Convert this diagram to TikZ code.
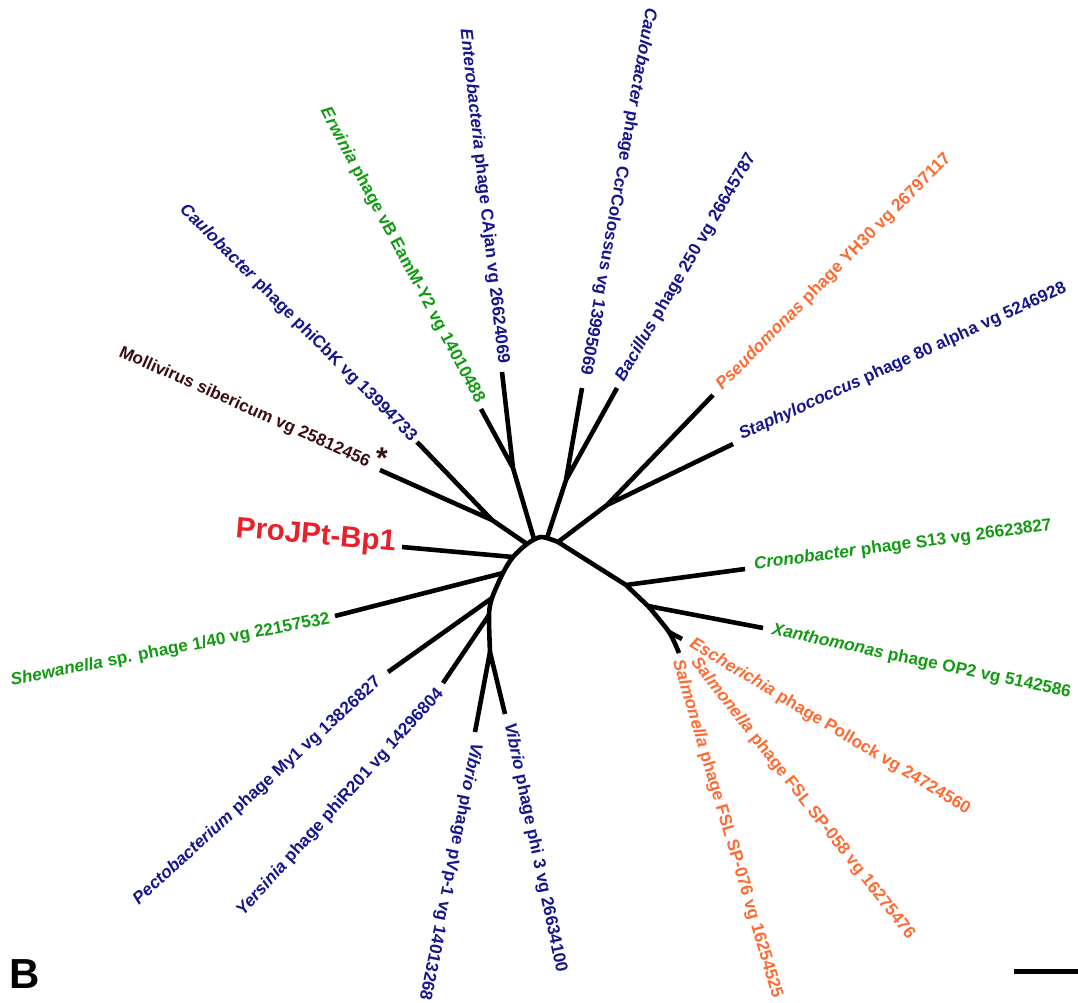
\documentclass[tikz,border=0pt]{standalone}
\usepackage{fontspec}
\setmainfont{Liberation Sans}
\definecolor{navy}{HTML}{16168C}
\definecolor{lgreen}{HTML}{139A13}
\definecolor{orng}{HTML}{FF6A33}
\definecolor{brwn}{HTML}{3A0E0E}
\definecolor{pred}{HTML}{E8202A}
\begin{document}
\begin{tikzpicture}[x=1pt,y=-1pt,
  br/.style={line width=4.6pt, line cap=butt, line join=round},
  lab/.style={font=\fontsize{17.2}{20}\selectfont\bfseries, inner sep=0pt},
  inw/.style={lab, anchor=east},
  outw/.style={lab, anchor=west}]
\useasboundingbox (0,0) rectangle (1078,1002);
% leaves
\coordinate (lent) at (502,372);
\coordinate (lerw) at (481,409);
\coordinate (lcbk) at (417,442);
\coordinate (lmol) at (380,470);
\coordinate (lpro) at (402,547);
\coordinate (lshe) at (335,616);
\coordinate (lpec) at (388,672);
\coordinate (lyer) at (443,683);
\coordinate (lvpv) at (475,732);
\coordinate (lvph) at (505,714);
\coordinate (lsal) at (679,653);
\coordinate (lesc) at (682,639);
\coordinate (lxan) at (763,628);
\coordinate (lcro) at (745,569);
\coordinate (lsta) at (733,444);
\coordinate (lpse) at (713,395);
\coordinate (lbac) at (617,388);
\coordinate (lccr) at (582,388);
% internal nodes
\coordinate (nee) at (513,468);
\coordinate (ncb) at (566,480);
\coordinate (nps) at (607,505);
\coordinate (ncm) at (492,520);
% backbone
\coordinate (bvib) at (490,652);
\coordinate (byer) at (489,615);
\coordinate (bpec) at (492,598);
\coordinate (bshe) at (503,573);
\coordinate (bpro) at (513,557);
\coordinate (bcm) at (527,544);
\coordinate (bee) at (534,539);
\coordinate (btop) at (541,537);
\coordinate (bcb) at (547,538);
\coordinate (bps) at (558,542);
\coordinate (bcro) at (626,585);
\coordinate (bxan) at (648,606);
\coordinate (besc) at (669,632);
\draw[br] plot[smooth, tension=0.5] coordinates {(bvib) (byer) (bpec) (bshe) (bpro) (bcm) (btop) (bps)};
\draw[br] (bps) -- (bcro) -- (bxan);
\draw[br] plot[smooth, tension=0.5] coordinates {(bxan) (besc) (lsal)};
% branches
\draw[br] (bcm) -- (ncm) (ncm) -- (lcbk) (ncm) -- (lmol);
\draw[br] (bee) -- (nee) (nee) -- (lent) (nee) -- (lerw);
\draw[br] (bcb) -- (ncb) (ncb) -- (lccr) (ncb) -- (lbac);
\draw[br] (bps) -- (nps) (nps) -- (lpse) (nps) -- (lsta);
\draw[br] (bpro) -- (lpro);
\draw[br] (bshe) -- (lshe);
\draw[br] (bpec) -- (lpec);
\draw[br] (byer) -- (lyer);
\draw[br] (bvib) -- (lvpv) (bvib) -- (lvph);
\draw[br] (bcro) -- (lcro);
\draw[br] (bxan) -- (lxan);
\draw[br] (besc) -- (lesc);
% labels
\node[inw, navy, rotate=-83.5] (tent) at (503,364) {\textit{Enterobacteria} phage CAjan vg 26624069};
\node[inw, lgreen, rotate=-62] (terw) at (480,402) {\textit{Erwinia} phage vB EamM-Y2 vg 14010488};
\node[inw, navy, rotate=-45] (tcbk) at (414,439) {\textit{Caulobacter} phage phiCbK vg 13994733};
\node[inw, brwn, rotate=-24] (tmol) at (369,463) {Mollivirus sibericum vg 25812456};
\node[lab, brwn, font=\fontsize{30}{30}\selectfont\bfseries] (ast) at (382,458) {*};
\node[inw, pred, rotate=-5, font=\fontsize{29.5}{32}\selectfont\bfseries] (tpro) at (396,544) {ProJPt-Bp1};
\node[inw, lgreen, rotate=11] (tshe) at (330,619) {\textit{Shewanella} sp. phage 1/40 vg 22157532};
\node[inw, navy, rotate=42.4] (tpec) at (379,680) {\textit{Pectobacterium} phage My1 vg 13826827};
\node[inw, navy, rotate=47.9] (tyer) at (441,691) {\textit{Yersinia} phage phiR201 vg 14296804};
\node[outw, navy, rotate=-101.4] (tvpv) at (476,743) {\textit{Vibrio} phage pVp-1 vg 14013268};
\node[outw, navy, rotate=-78.2] (tvph) at (509,723) {\textit{Vibrio} phage phi 3 vg 26634100};
\node[outw, orng, rotate=-73.5] (ts76) at (677,660) {\textit{Salmonella} phage FSL SP-076 vg 16254525};
\node[outw, orng, rotate=-51.9] (ts58) at (694,660) {\textit{Salmonella} phage FSL SP-058 vg 16275476};
\node[outw, orng, rotate=-31.1] (tesc) at (691,643) {\textit{Escherichia} phage Pollock vg 24724560};
\node[outw, lgreen, rotate=-12] (txan) at (772,630) {\textit{Xanthomonas} phage OP2 vg 5142586};
\node[outw, lgreen, rotate=7.5] (tcro) at (754,565) {\textit{Cronobacter} phage S13 vg 26623827};
\node[outw, navy, rotate=24.5] (tsta) at (740,436) {\textit{Staphylococcus} phage 80 alpha vg 5246928};
\node[outw, orng, rotate=45.3] (tpse) at (719,388) {\textit{Pseudomonas} phage YH30 vg 26797117};
\node[outw, navy, rotate=59.6] (tbac) at (620,380) {\textit{Bacillus} phage 250 vg 26645787};
\node[inw, navy, rotate=-100.1] (tccr) at (585,375) {\textit{Caulobacter} phage CcrColossus vg 13995069};
% panel letter and scale bar
\node[anchor=base west, inner sep=0pt, font=\fontsize{42}{42}\selectfont\bfseries] (panel) at (9,988) {B};
\coordinate (sba) at (1014,971);
\coordinate (sbb) at (1078,971);
\draw[line width=5pt] (sba) -- (sbb);
\end{tikzpicture}
\end{document}
